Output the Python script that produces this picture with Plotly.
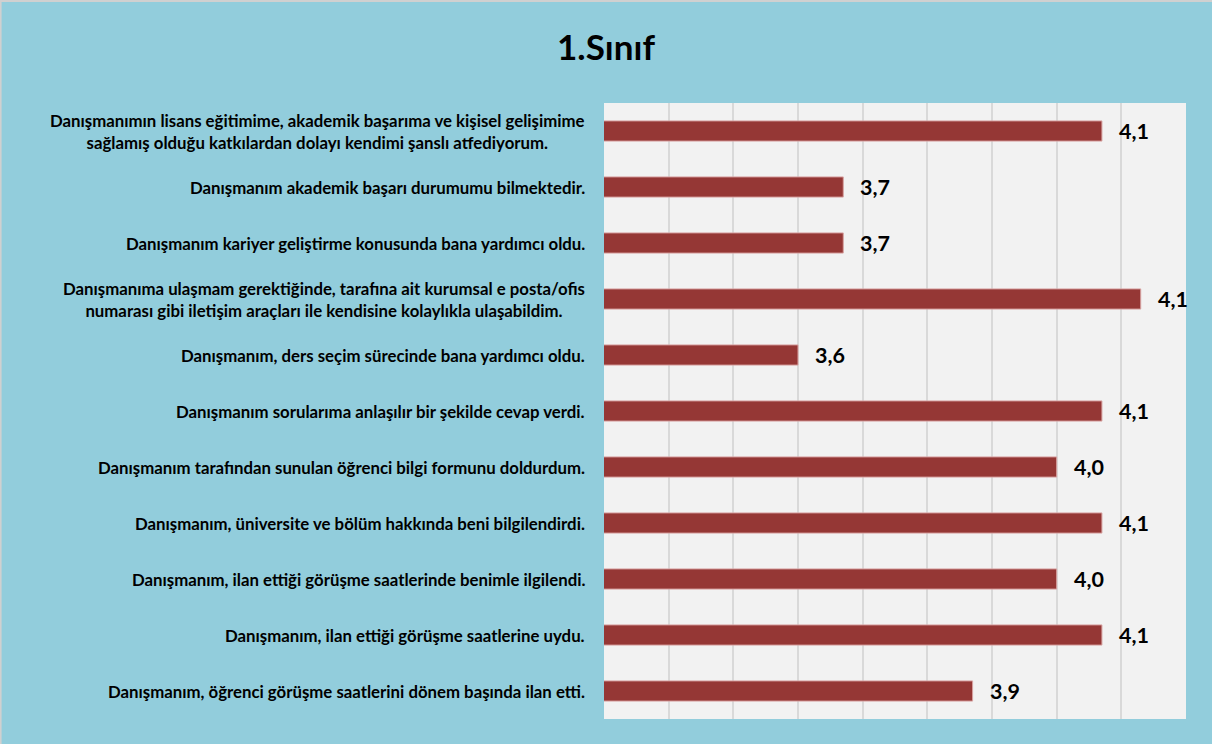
import plotly.graph_objects as go

# survey items, top to bottom as shown in the chart
items = [
    "Danışmanımın lisans eğitimime, akademik başarıma ve kişisel gelişimime<br>sağlamış olduğu katkılardan dolayı kendimi şanslı atfediyorum.",
    "Danışmanım akademik başarı durumumu bilmektedir.",
    "Danışmanım kariyer geliştirme konusunda bana yardımcı oldu.",
    "Danışmanıma ulaşmam gerektiğinde, tarafına ait kurumsal e posta/ofis<br>numarası gibi iletişim araçları ile kendisine kolaylıkla ulaşabildim.",
    "Danışmanım, ders seçim sürecinde bana yardımcı oldu.",
    "Danışmanım sorularıma anlaşılır bir şekilde cevap verdi.",
    "Danışmanım tarafından sunulan öğrenci bilgi formunu doldurdum.",
    "Danışmanım, üniversite ve bölüm hakkında beni bilgilendirdi.",
    "Danışmanım, ilan ettiği görüşme saatlerinde benimle ilgilendi.",
    "Danışmanım, ilan ettiği görüşme saatlerine uydu.",
    "Danışmanım, öğrenci görüşme saatlerini dönem başında ilan etti.",
]
scores = [4.07, 3.67, 3.67, 4.13, 3.60, 4.07, 4.00, 4.07, 4.00, 4.07, 3.87]

title = "1.Sınıf"
x_min, x_max = 3.3, 4.2

BAR = "#953735"
BG = "#92CDDC"
PLOT_BG = "#F2F2F2"
FONT = "Lato"

fig = go.Figure()
fig.add_trace(
    go.Bar(
        x=scores,
        y=items,
        orientation="h",
        marker=dict(color=BAR, line=dict(color="#D8A3A2", width=1)),
        hoverinfo="x",
    )
)

# category labels (centred multi-line, right aligned as a block)
for it in items:
    fig.add_annotation(
        x=0, xref="paper", y=it, yref="y",
        text=it, showarrow=False,
        xanchor="right", xshift=-17, align="center",
        font=dict(family=FONT, size=16.8, color="black", weight="bold"),
    )

# value labels with decimal comma
for it, v in zip(items, scores):
    fig.add_annotation(
        x=v, y=it, text=f"{v:.1f}".replace(".", ","),
        showarrow=False, xanchor="left", xshift=15,
        font=dict(family=FONT, size=21.5, color="black", weight="bold"),
    )

W, H = 1212, 744
ml, mr, mt, mb = 604, 26, 103, 25
pw = W - ml - mr
ph = H - mt - mb
# thin grey frame; only top and left edges fall inside the picture
fig.add_shape(
    type="rect", xref="paper", yref="paper",
    x0=-ml / pw + 0.001, x1=1 + (mr + 10) / pw,
    y0=-(mb + 10) / ph, y1=1 + (mt - 1) / ph,
    line=dict(color="#D0D0D0", width=2), layer="below",
)

fig.update_layout(
    width=W, height=H,
    margin=dict(l=ml, r=mr, t=mt, b=mb),
    paper_bgcolor=BG,
    plot_bgcolor=PLOT_BG,
    bargap=0.64,
    showlegend=False,
    title=dict(
        text=title, x=0.5, xanchor="center", y=1 - 48 / H, yanchor="middle",
        font=dict(family=FONT, size=35, color="black", weight="bold"),
    ),
    xaxis=dict(
        range=[x_min, x_max], dtick=0.1, tick0=x_min,
        showticklabels=False, showgrid=True, gridcolor="#D9D9D9", gridwidth=1.5,
        zeroline=False, showline=False, fixedrange=True,
    ),
    yaxis=dict(
        type="category", autorange="reversed", showticklabels=False,
        showgrid=False, zeroline=False, fixedrange=True,
    ),
)

fig.write_html(
    "out.html",
    config={"displayModeBar": False},
    post_script="document.body.style.margin='0';document.body.style.overflow='hidden';",
)
